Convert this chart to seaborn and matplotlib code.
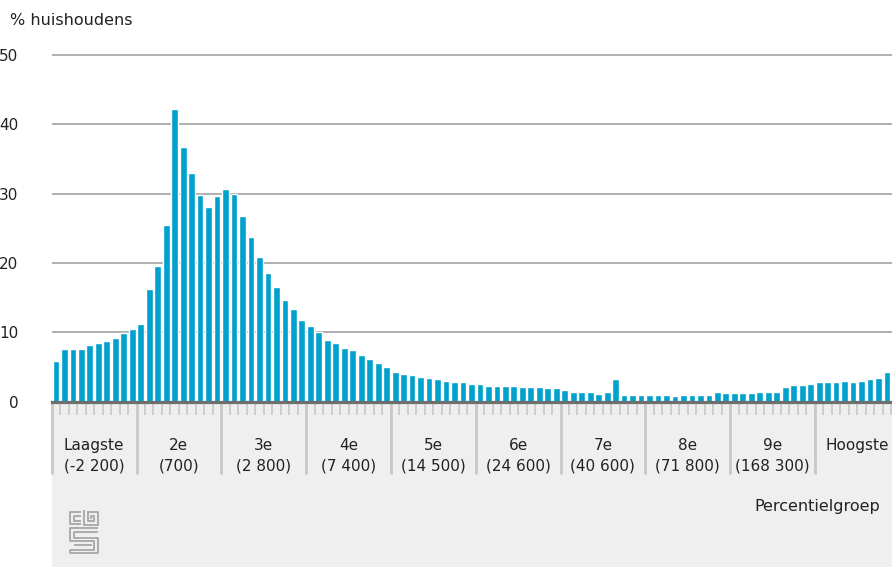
import matplotlib
matplotlib.use("Agg")
import matplotlib.pyplot as plt
import numpy as np
import pandas as pd
import seaborn as sns
from matplotlib.patches import Rectangle

# --- Data: % households per percentile group ---
percentiles = list(range(1, 101))
share = [
    5.9, 7.6, 7.6, 7.6, 8.1, 8.4, 8.8, 9.2, 9.9, 10.5,
    11.2, 16.3, 19.6, 25.4, 42.2, 36.7, 32.9, 29.8, 28.0, 29.6,
    30.7, 29.9, 26.7, 23.8, 20.9, 18.6, 16.6, 14.7, 13.4, 11.8,
    10.9, 10.0, 8.9, 8.5, 7.8, 7.4, 6.7, 6.2, 5.6, 5.0,
    4.2, 4.0, 3.8, 3.6, 3.4, 3.2, 3.0, 2.8, 2.8, 2.6,
    2.55, 2.3, 2.3, 2.3, 2.3, 2.1, 2.1, 2.1, 1.9, 1.9,
    1.7, 1.4, 1.4, 1.4, 1.15, 1.4, 3.2, 0.95, 0.95, 0.95,
    0.95, 0.95, 0.95, 0.75, 0.95, 0.95, 0.95, 0.95, 1.45, 1.2,
    1.2, 1.2, 1.2, 1.45, 1.45, 1.45, 2.1, 2.35, 2.35, 2.6,
    2.8, 2.8, 2.8, 3.0, 2.8, 3.0, 3.2, 3.4, 4.3, 4.6,
]
decile_names = ["Laagste", "2e", "3e", "4e", "5e", "6e", "7e", "8e", "9e", "Hoogste"]
decile_bounds = ["(-2 200)", "(700)", "(2 800)", "(7 400)", "(14 500)",
                 "(24 600)", "(40 600)", "(71 800)", "(168 300)", ""]
y_ticks = [0, 10, 20, 30, 40, 50]

BAR_COLOR = "#00a1cd"
GRID_COLOR = "#9a9a9a"
PANEL_GRAY = "#efefef"
TICK_GRAY = "#c8c8c8"
TEXT_COLOR = "#222222"

sns.set_theme(style="white")
plt.rcParams["font.family"] = ["DejaVu Sans"]

W, H = 892, 567
fig = plt.figure(figsize=(W / 100, H / 100), dpi=100)

# overlay in pixel coordinates for the gray panel, logo and loose texts
bg = fig.add_axes([0, 0, 1, 1], zorder=-1)
bg.set_xlim(0, W)
bg.set_ylim(H, 0)
bg.axis("off")
bg.add_patch(Rectangle((51.5, 402), W, H, color=PANEL_GRAY, lw=0))

# CBS logo (rough line drawing)
logo = [
    [(81, 512), (70, 512), (70, 524), (81, 524)],
    [(81, 515.5), (73.5, 515.5), (73.5, 520.5), (81, 520.5)],
    [(84, 510), (84, 524.5), (97.5, 524.5), (97.5, 512), (87, 512)],
    [(87.5, 512), (87.5, 521), (94, 521), (94, 515.5), (90.5, 515.5), (90.5, 518.5)],
    [(97.5, 528), (70, 528), (70, 541), (94, 541), (94, 549.5), (70, 549.5), (70, 553), (97.5, 553), (97.5, 537.5), (73.5, 537.5), (73.5, 531.5), (97.5, 531.5)],
    [(73.5, 544.5), (90.5, 544.5), (90.5, 546)],
]
for seg in logo:
    xs, ys = zip(*seg)
    bg.plot(xs, ys, color="#a6a6a6", lw=1.3, solid_capstyle="butt")

# main chart axes (right edge runs past the image, as in the reference)
px_per_unit = 208 / 30
top = 50.6
ax_left, ax_bottom = 51.7, 401.6
ax = fig.add_axes([ax_left / W, (H - ax_bottom) / H, 848 / W, top * px_per_unit / H])
ax.set_facecolor("white")

df = pd.DataFrame({"percentiel": percentiles, "share": share})
sns.barplot(data=df, x="percentiel", y="share", color=BAR_COLOR, saturation=1,
            width=0.8, ax=ax, zorder=3)

ax.set_xlim(-0.5, 99.5)
ax.set_ylim(0, top)
ax.set_yticks(y_ticks)
ax.set_yticklabels([str(v) for v in y_ticks], fontsize=11, color=TEXT_COLOR)
ax.tick_params(axis="y", length=0, pad=24)
ax.yaxis.grid(True, color=GRID_COLOR, lw=1.1)
ax.set_axisbelow(True)

for s in ["left", "top", "right"]:
    ax.spines[s].set_visible(False)
ax.spines["bottom"].set_color("#6e6e6e")
ax.spines["bottom"].set_linewidth(2.3)
ax.spines["bottom"].set_zorder(5)

# minor ticks between bars, long separators between deciles
bounds = np.arange(-0.5, 100, 1.0)
major = bounds[::10]
minor = [b for i, b in enumerate(bounds) if i % 10 != 0]
ax.set_xticks(major)
ax.set_xticklabels([""] * len(major))
ax.set_xticks(minor, minor=True)
ax.tick_params(axis="x", which="both", bottom=True)
ax.tick_params(axis="x", which="major", direction="out", length=52, width=2.0, color=TICK_GRAY)
ax.tick_params(axis="x", which="minor", direction="out", length=9.5, width=1.2, color=TICK_GRAY, pad=0)
ax.set_xlabel("")
ax.set_ylabel("")

trans = ax.get_xaxis_transform()
for i, (name, amount) in enumerate(zip(decile_names, decile_bounds)):
    xc = 10 * i + 4.5
    ax.text(xc, -43.5 / (top * px_per_unit), name, transform=trans, ha="center", va="center",
            fontsize=11, color=TEXT_COLOR)
    if amount:
        ax.text(xc, -64.5 / (top * px_per_unit), amount, transform=trans, ha="center", va="center",
                fontsize=11, color=TEXT_COLOR)

bg.text(10, 20.5, "% huishoudens", ha="left", va="center", fontsize=11.5, color=TEXT_COLOR)
bg.text(880, 506.5, "Percentielgroep", ha="right", va="center", fontsize=11.5, color=TEXT_COLOR)

fig.savefig("out.png", dpi=100)
